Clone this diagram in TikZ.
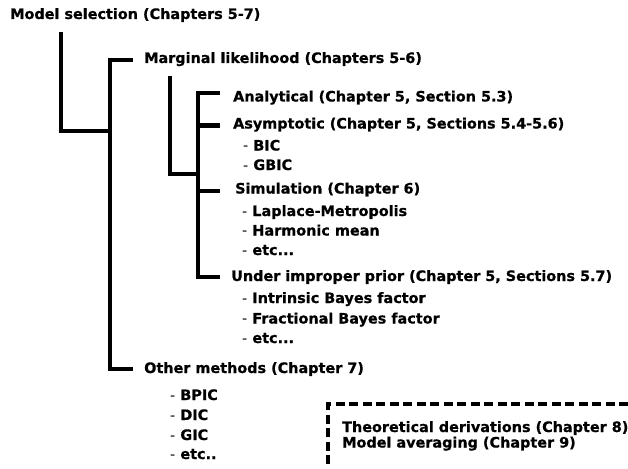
\documentclass[tikz,border=0pt]{standalone}
\usepackage{fontspec}
\setmainfont{DejaVu Sans}[BoldFeatures={FakeBold=0.7}]
\begin{document}
\begin{tikzpicture}[x=1pt,y=-1pt,
  lbl/.style={anchor=base west,inner sep=0pt,font=\fontsize{14.4}{16}\selectfont\bfseries},
  tree/.style={line width=4.2pt,line join=miter,line cap=rect},
  dbox/.style={line width=3.2pt,dash pattern=on 9pt off 4.5pt}]
\useasboundingbox (0,0) rectangle (628,468);
\newcommand{\dsh}{{\mdseries -}\ }
% labels
\node[lbl] (ms) at (10,19) {Model selection (Chapters 5-7)};
\node[lbl] (ml) at (144,63) {Marginal likelihood (Chapters 5-6)};
\node[lbl] (an) at (233,101.5) {Analytical (Chapter 5, Section 5.3)};
\node[lbl] (as) at (233,128.5) {Asymptotic (Chapter 5, Sections 5.4-5.6)};
\node[lbl] (bic) at (243,150.5) {\dsh BIC};
\node[lbl] (gbic) at (243,170) {\dsh GBIC};
\node[lbl] (si) at (235,193.5) {Simulation (Chapter 6)};
\node[lbl] (lm) at (242,216) {\dsh Laplace-Metropolis};
\node[lbl] (hm) at (242,235.5) {\dsh Harmonic mean};
\node[lbl] (e1) at (242,255) {\dsh etc...};
\node[lbl] (ui) at (231,281) {Under improper prior (Chapter 5, Sections 5.7)};
\node[lbl] (ib) at (242,303) {\dsh Intrinsic Bayes factor};
\node[lbl] (fb) at (242,323.5) {\dsh Fractional Bayes factor};
\node[lbl] (e2) at (242,343) {\dsh etc...};
\node[lbl] (om) at (144,373) {Other methods (Chapter 7)};
\node[lbl] (bp) at (170,400) {\dsh BPIC};
\node[lbl] (di) at (170,420) {\dsh DIC};
\node[lbl] (gi) at (170,440) {\dsh GIC};
\node[lbl] (e3) at (170,459) {\dsh etc..};
\node[lbl] (td) at (342,432) {Theoretical derivations (Chapter 8)};
\node[lbl] (ma) at (342,447.5) {Model averaging (Chapter 9)};
% tree coordinates
\coordinate (a1) at (61,34);
\coordinate (a2) at (61,131);
\coordinate (b0) at (110,131);
\coordinate (b1) at (110,60);
\coordinate (b2) at (110,369);
\coordinate (bm) at (131,60);
\coordinate (bo) at (131,369);
\coordinate (c1) at (170,78);
\coordinate (c2) at (170,174);
\coordinate (d0) at (198,174);
\coordinate (d1) at (198,93);
\coordinate (d2) at (198,277);
\coordinate (dan) at (218,93);
\coordinate (das) at (218,125.5);
\coordinate (dsi) at (218,191);
\coordinate (dui) at (218,277);
\coordinate (dasl) at (198,125.5);
\coordinate (dsil) at (198,191);
\coordinate (x1) at (628,404);
\coordinate (x2) at (328,404);
\coordinate (x3) at (328,470);
% tree lines
\draw[tree] (a1) -- (a2) -- (b0);
\draw[tree] (bm) -- (b1) -- (b2) -- (bo);
\draw[tree] (c1) -- (c2) -- (d0);
\draw[tree] (dan) -- (d1) -- (d2) -- (dui);
\draw[tree] (dasl) -- (das);
\draw[tree] (dsil) -- (dsi);
\draw[dbox] (x1) -- (x2) -- (x3);
\end{tikzpicture}
\end{document}
